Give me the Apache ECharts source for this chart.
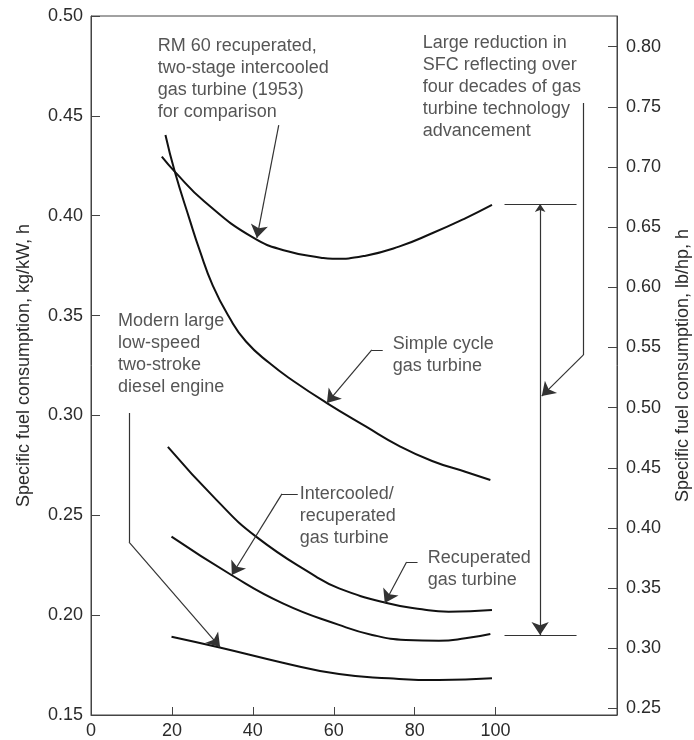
<!DOCTYPE html>
<html>
<head>
<meta charset="utf-8">
<script src="https://cdn.jsdelivr.net/npm/echarts@6/dist/echarts.min.js"></script>
<style>html,body{margin:0;padding:0;background:#fff;}#c{width:694px;height:740px;}</style>
</head>
<body>
<div id="c"></div>
<script>
// ---- data (x: load %, y: SFC kg/kWh) ----
var xTicks = [0, 20, 40, 60, 80, 100];
var leftTicks = [0.15, 0.20, 0.25, 0.30, 0.35, 0.40, 0.45, 0.50];
var rightTicks = [0.25, 0.30, 0.35, 0.40, 0.45, 0.50, 0.55, 0.60, 0.65, 0.70, 0.75, 0.80];

var rm60 = [[17.5,0.4296],[20.7,0.4221],[28.1,0.4070],[40.1,0.3890],[48.6,0.3822],[56.8,0.3790],[59.7,0.3784],[67.9,0.3800],[76.1,0.3845],[84.3,0.3912],[92.5,0.3987],[99.1,0.4054]];
var simpleCycle = [[18.4,0.4404],[20.7,0.4221],[24.4,0.3979],[26.8,0.3830],[30.1,0.3650],[34.2,0.3490],[38.3,0.3370],[44.1,0.3262],[50.2,0.3170],[58.3,0.3062],[67.9,0.2945],[76.1,0.2848],[84.3,0.2772],[92.5,0.2718],[98.7,0.2677]];
var recuperated = [[19.0,0.2843],[31.0,0.2577],[40.8,0.2393],[55.6,0.2193],[61.3,0.2134],[72.8,0.2062],[81.8,0.2029],[88.4,0.2017],[99.1,0.2026]];
var intercooledRecup = [[19.9,0.2393],[34.7,0.2201],[47.4,0.2059],[61.3,0.1951],[69.5,0.1901],[77.8,0.1876],[86.0,0.1872],[92.5,0.1884],[98.7,0.1906]];
var diesel = [[19.9,0.1892],[31.8,0.1838],[47.4,0.1762],[61.3,0.1705],[73.6,0.1684],[86.0,0.1675],[99.1,0.1684]];

// annotations: text anchors (top-left) and leader paths, in data units
var notes = [
  {pos:[16.5,0.4905], text:'RM 60 recuperated,\ntwo-stage intercooled\ngas turbine (1953)\nfor comparison'},
  {pos:[82.0,0.4918], text:'Large reduction in\nSFC reflecting over\nfour decades of gas\nturbine technology\nadvancement'},
  {pos:[74.6,0.3413], text:'Simple cycle\ngas turbine'},
  {pos:[6.7,0.3528], text:'Modern large\nlow-speed\ntwo-stroke\ndiesel engine'},
  {pos:[51.6,0.2662], text:'Intercooled/\nrecuperated\ngas turbine'},
  {pos:[83.2,0.2341], text:'Recuperated\ngas turbine'}
];
var arrows = [
  [[46.4,0.4454],[41.0,0.3889]],
  [[121.7,0.4565],[121.7,0.3303],[111.4,0.3097]],
  [[72.1,0.3328],[69.4,0.3328],[58.3,0.3062]],
  [[9.4,0.3012],[9.4,0.2366],[31.9,0.1840]],
  [[51.1,0.2607],[47.2,0.2607],[34.8,0.2201]],
  [[80.7,0.2266],[78.0,0.2266],[72.6,0.2061]]
];
var rangeArrow = [[111.0,0.4059],[111.0,0.1900]];
var rangeBars = [
  [[102.2,0.4059],[120.0,0.4059]],
  [[102.2,0.1900],[120.0,0.1900]]
];

var FONT = 'Liberation Sans, Arial, Helvetica, sans-serif';
var TXT = '#2b2b2b';
var AX = '#444';

function curve(name, data) {
  return {
    name: name, type: 'line', data: data, smooth: 0.5, showSymbol: false,
    lineStyle: {color: '#111', width: 2}, silent: true, z: 3
  };
}

// split leader paths: plain segments + final segment with arrowhead
var plainSegs = [], headSegs = [];
arrows.forEach(function (p) {
  for (var i = 0; i < p.length - 1; i++) {
    var seg = {coords: [p[i], p[i + 1]]};
    if (i === p.length - 2) headSegs.push(seg); else plainSegs.push(seg);
  }
});
rangeBars.forEach(function (c) { plainSegs.push({coords: c}); });

var lineStyle = {color: '#333', width: 1.2, opacity: 1, curveness: 0};

var chart = echarts.init(document.getElementById('c'), null, {renderer: 'canvas'});
var option = {
  animation: false,
  backgroundColor: '#fff',
  grid: {left: 91, right: 77, top: 16, bottom: 25, show: true, borderColor: AX, borderWidth: 1,
    containLabel: false, outerBoundsMode: 'none'},
  xAxis: {
    type: 'value', min: 0, max: 130,
    axisLine: {lineStyle: {color: AX, width: 1}},
    axisTick: {inside: true, length: 8, lineStyle: {color: AX}, customValues: xTicks},
    axisLabel: {color: TXT, fontSize: 18, fontFamily: FONT, margin: 7, customValues: xTicks},
    splitLine: {show: false}
  },
  yAxis: [{
    type: 'value', min: 0.15, max: 0.50, interval: 0.05, position: 'left',
    name: 'Specific fuel consumption, kg/kW, h', nameLocation: 'middle', nameGap: 58,
    nameTextStyle: {color: TXT, fontSize: 18, fontFamily: FONT},
    axisLine: {show: true, lineStyle: {color: AX, width: 1}},
    axisTick: {inside: true, length: 9, lineStyle: {color: AX}},
    axisLabel: {color: TXT, fontSize: 18, fontFamily: FONT, margin: 8,
      formatter: function (v) { return v.toFixed(2); }},
    splitLine: {show: false}
  }, {
    type: 'value', min: 0.2445, max: 0.8255, position: 'right',
    name: 'Specific fuel consumption, lb/hp, h', nameLocation: 'middle', nameGap: 57,
    nameRotate: 90,
    nameTextStyle: {color: TXT, fontSize: 18, fontFamily: FONT},
    axisLine: {show: true, lineStyle: {color: AX, width: 1}},
    axisTick: {inside: true, length: 9, lineStyle: {color: AX}, customValues: rightTicks},
    axisLabel: {color: TXT, fontSize: 18, fontFamily: FONT, margin: 9, customValues: rightTicks,
      formatter: function (v) { return v.toFixed(2); }},
    splitLine: {show: false}
  }],
  series: [
    curve('RM 60', rm60),
    curve('Simple cycle gas turbine', simpleCycle),
    curve('Recuperated gas turbine', recuperated),
    curve('Intercooled/recuperated gas turbine', intercooledRecup),
    curve('Modern diesel', diesel),
    {
      type: 'lines', coordinateSystem: 'cartesian2d', silent: true, z: 4,
      symbol: ['none', 'none'], lineStyle: lineStyle, data: plainSegs
    },
    {
      type: 'lines', coordinateSystem: 'cartesian2d', silent: true, z: 4,
      symbol: ['none', 'arrow'], symbolSize: [8, 13], lineStyle: lineStyle, data: headSegs
    },
    {
      type: 'lines', coordinateSystem: 'cartesian2d', silent: true, z: 4,
      symbol: ['arrow', 'arrow'], symbolSize: [8, 13], lineStyle: lineStyle,
      data: [{coords: rangeArrow}]
    },
    {
      type: 'scatter', symbolSize: 0, silent: true, z: 5,
      data: notes.map(function (n) { return {value: n.pos, text: n.text}; }),
      label: {
        show: true, position: [0, 0], align: 'left', verticalAlign: 'top',
        color: TXT, fontSize: 18, fontFamily: FONT, lineHeight: 22,
        formatter: function (p) { return p.data.text; }
      }
    }
  ]
};
chart.setOption(option);
</script>
</body>
</html>
